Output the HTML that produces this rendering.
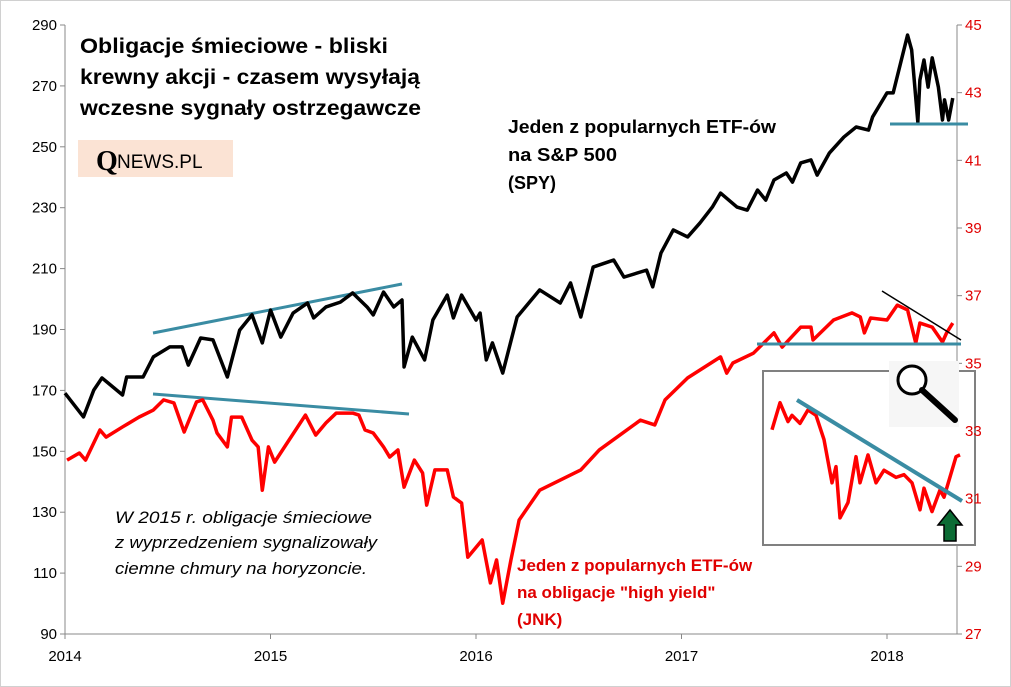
<!DOCTYPE html>
<html><head><meta charset="utf-8"><style>
body{margin:0;background:#fff;}
svg{display:block;font-family:"Liberation Sans",sans-serif;}
</style></head><body>
<svg id="chart" width="1011" height="687" viewBox="0 0 1011 687" xmlns="http://www.w3.org/2000/svg">
<rect x="0.5" y="0.5" width="1010" height="686" fill="#fff" stroke="#d0d0d0"/>
<g id="axes"></g>
<line x1="153" y1="333" x2="402" y2="284" stroke="#3a8ca3" stroke-width="3"/>
<line x1="153" y1="394" x2="409" y2="414" stroke="#3a8ca3" stroke-width="3"/>
<g id="series"></g>
<line x1="757" y1="344" x2="961" y2="344" stroke="#3a8ca3" stroke-width="3"/>
<line x1="890" y1="124" x2="968" y2="124" stroke="#3a8ca3" stroke-width="3"/>
<line x1="882" y1="291" x2="961" y2="340" stroke="#000" stroke-width="1.5"/>
<g>
<rect x="763" y="371" width="212" height="174" fill="#fff" stroke="#808080" stroke-width="2"/>
<g id="inset"></g>
<line x1="797" y1="400" x2="962" y2="501" stroke="#3a8ca3" stroke-width="4"/>
<polygon points="938,525 950,510 962,525 956,525 956,541 944,541 944,525" fill="#0b6b34" stroke="#000" stroke-width="1.5"/>
</g>
<g>
<rect x="889" y="361" width="70" height="66" fill="#f6f6f6"/>
<circle cx="912" cy="380" r="14" fill="#fff" stroke="#000" stroke-width="3"/>
<line x1="922" y1="390" x2="955" y2="420" stroke="#000" stroke-width="6" stroke-linecap="round"/>
</g>
<g id="rlabels"></g>
<g font-weight="bold" font-size="21" fill="#000">
<text x="80" y="53" textLength="308" lengthAdjust="spacingAndGlyphs">Obligacje śmieciowe - bliski</text>
<text x="80" y="84" textLength="340" lengthAdjust="spacingAndGlyphs">krewny akcji - czasem wysyłają</text>
<text x="80" y="115" textLength="341" lengthAdjust="spacingAndGlyphs">wczesne sygnały ostrzegawcze</text>
</g>
<g>
<rect x="78" y="140" width="155" height="37" fill="#fbe3d4"/>
<text x="96" y="170" font-family="Liberation Serif,serif" font-weight="bold" font-size="28">Q</text>
<text x="117" y="168" font-size="19">NEWS.PL</text>
</g>
<g font-weight="bold" font-size="18" fill="#000">
<text x="508" y="133" textLength="268" lengthAdjust="spacingAndGlyphs">Jeden z popularnych ETF-ów</text>
<text x="508" y="161" textLength="109" lengthAdjust="spacingAndGlyphs">na S&amp;P 500</text>
<text x="508" y="189" textLength="48" lengthAdjust="spacingAndGlyphs">(SPY)</text>
</g>
<g font-weight="bold" font-size="17" fill="#e00000">
<text x="517" y="571">Jeden z popularnych ETF-ów</text>
<text x="517" y="598">na obligacje "high yield"</text>
<text x="517" y="625">(JNK)</text>
</g>
<g font-style="italic" font-size="17" fill="#000">
<text x="115" y="523" textLength="257" lengthAdjust="spacingAndGlyphs">W 2015 r. obligacje śmieciowe</text>
<text x="115" y="548" textLength="262" lengthAdjust="spacingAndGlyphs">z wyprzedzeniem sygnalizowały</text>
<text x="115" y="574" textLength="252" lengthAdjust="spacingAndGlyphs">ciemne chmury na horyzoncie.</text>
</g>
</svg>
<script>
const spyDates=[2014.00,2014.09,2014.14,2014.18,2014.28,2014.30,2014.38,2014.43,2014.51,2014.57,2014.60,2014.66,2014.72,2014.79,2014.85,2014.91,2014.96,2015.00,2015.05,2015.11,2015.18,2015.21,2015.27,2015.34,2015.40,2015.47,2015.50,2015.55,2015.60,2015.64,2015.65,2015.69,2015.75,2015.79,2015.86,2015.89,2015.93,2016.00,2016.02,2016.05,2016.08,2016.13,2016.20,2016.31,2016.41,2016.46,2016.51,2016.57,2016.67,2016.72,2016.83,2016.86,2016.90,2016.96,2017.03,2017.09,2017.15,2017.19,2017.27,2017.32,2017.37,2017.41,2017.45,2017.51,2017.54,2017.58,2017.63,2017.66,2017.72,2017.79,2017.85,2017.91,2017.93,2018.00,2018.03,2018.10,2018.12,2018.15,2018.16,2018.18,2018.20,2018.22,2018.25,2018.27,2018.28,2018.30,2018.32];
const spyValues=[169.1,161.3,170.1,174.1,168.5,174.4,174.4,181.0,184.3,184.3,178.3,187.2,186.6,174.4,189.8,194.8,185.6,196.4,187.5,195.4,198.7,193.8,197.4,199.0,202.0,197.4,194.8,202.3,197.4,199.7,177.7,187.5,180.0,193.1,201.3,193.8,201.3,193.1,195.4,180.0,185.6,175.7,194.1,203.0,198.7,205.3,194.1,210.5,212.8,207.2,209.5,204.0,215.1,222.7,220.4,225.0,230.2,234.8,230.2,229.2,235.8,232.5,239.1,241.4,238.4,244.7,245.7,240.7,248.0,253.2,256.5,255.5,259.8,267.7,267.7,286.7,281.8,258.1,271.9,278.5,269.6,279.2,269.6,258.8,265.4,258.8,266.0];
const jnkDates=[2014.01,2014.07,2014.10,2014.17,2014.20,2014.28,2014.36,2014.43,2014.48,2014.53,2014.58,2014.64,2014.67,2014.72,2014.74,2014.79,2014.81,2014.86,2014.91,2014.94,2014.96,2014.99,2015.02,2015.09,2015.17,2015.22,2015.27,2015.32,2015.40,2015.43,2015.46,2015.50,2015.55,2015.58,2015.62,2015.65,2015.70,2015.74,2015.76,2015.80,2015.86,2015.89,2015.93,2015.96,2016.03,2016.07,2016.10,2016.13,2016.17,2016.21,2016.31,2016.41,2016.51,2016.60,2016.70,2016.80,2016.87,2016.92,2017.03,2017.19,2017.22,2017.25,2017.35,2017.45,2017.49,2017.58,2017.63,2017.64,2017.74,2017.83,2017.87,2017.89,2017.92,2018.00,2018.05,2018.10,2018.14,2018.16,2018.22,2018.27,2018.29,2018.32];
const jnkValues=[32.14,32.35,32.14,33.03,32.82,33.12,33.41,33.62,33.92,33.83,32.97,33.86,33.92,33.32,32.94,32.53,33.41,33.41,32.73,32.53,31.25,32.53,32.08,32.73,33.47,32.88,33.24,33.53,33.53,33.47,33.03,32.94,32.53,32.23,32.44,31.34,32.14,31.76,30.81,31.85,31.85,31.05,30.87,29.27,29.78,28.51,29.19,27.91,29.19,30.37,31.25,31.55,31.85,32.44,32.88,33.32,33.18,33.92,34.57,35.19,34.71,35.01,35.30,35.90,35.48,36.07,36.07,35.69,36.28,36.49,36.37,35.90,36.34,36.28,36.72,36.58,35.60,36.19,36.07,35.63,35.90,36.19];
const insetDates=[2018.00,2018.02,2018.04,2018.05,2018.07,2018.09,2018.11,2018.13,2018.15,2018.16,2018.17,2018.19,2018.21,2018.22,2018.24,2018.26,2018.28,2018.31,2018.33,2018.35,2018.37,2018.38,2018.40,2018.42,2018.43,2018.45,2018.46,2018.47];
const insetValues=[36.47,36.77,36.56,36.63,36.54,36.69,36.63,36.36,35.88,36.06,35.49,35.66,36.17,35.88,36.19,35.88,36.02,35.94,35.97,35.88,35.58,35.82,35.56,35.80,35.72,36.02,36.17,36.19];
const leftTicks=[90,110,130,150,170,190,210,230,250,270,290];
const rightTicks=[27,29,31,33,35,37,39,41,43,45];
const yearTicks=[2014,2015,2016,2017,2018];

const NS="http://www.w3.org/2000/svg";
const X0=65,X1=957,Y0=25,Y1=634;
const xs=t=>X0+(t-2014)*205.5;
const yl=v=>Y0+(290-v)/(290-90)*(Y1-Y0);
const yr=v=>Y0+(45-v)/(45-27)*(Y1-Y0);
const xi=t=>772+(t-2018)/(0.47)*188;
const yi=v=>400+(36.8-v)*90;
function mk(tag,attrs,parent){const e=document.createElementNS(NS,tag);for(const k in attrs)e.setAttribute(k,attrs[k]);parent.appendChild(e);return e;}
const axes=document.getElementById('axes');
const rl=document.getElementById('rlabels');
let e=mk('line',{x1:X0,y1:Y0,x2:X0,y2:Y1,stroke:'#888'},axes);


e=mk('line',{x1:X1,y1:Y0,x2:X1,y2:Y1,stroke:'#888'},axes);


e=mk('line',{x1:X0,y1:Y1,x2:X1,y2:Y1,stroke:'#888'},axes);


leftTicks.forEach(v=>{const y=yl(v);mk('line',{x1:X0-5,y1:y,x2:X0,y2:y,stroke:'#888'},axes);
 const t=mk('text',{x:X0-8,y:y+5,'text-anchor':'end','font-size':'15',fill:'#000'},axes);t.textContent=v;
 
 });
rightTicks.forEach(v=>{const y=yr(v);mk('line',{x1:X1,y1:y,x2:X1+5,y2:y,stroke:'#888'},axes);
 const t=mk('text',{x:X1+8,y:y+5,'font-size':'15',fill:'#e00000'},rl);t.textContent=v;
 
 });
yearTicks.forEach(v=>{const x=xs(v);mk('line',{x1:x,y1:Y1,x2:x,y2:Y1+5,stroke:'#888'},axes);
 const t=mk('text',{x:x,y:Y1+27,'text-anchor':'middle','font-size':'15',fill:'#000'},axes);t.textContent=v;
 
 });
const ser=document.getElementById('series');
const p1=mk('polyline',{points:spyDates.map((d,i)=>xs(d)+','+yl(spyValues[i])).join(' '),fill:'none',stroke:'#000','stroke-width':'3.5','stroke-linejoin':'round'},ser);


const p2=mk('polyline',{points:jnkDates.map((d,i)=>xs(d)+','+yr(jnkValues[i])).join(' '),fill:'none',stroke:'#ff0000','stroke-width':'3.5','stroke-linejoin':'round'},ser);


const p3=mk('polyline',{points:insetDates.map((d,i)=>xi(d)+','+yi(insetValues[i])).join(' '),fill:'none',stroke:'#ff0000','stroke-width':'3.5','stroke-linejoin':'round'},document.getElementById('inset'));


</script>
</body></html>
